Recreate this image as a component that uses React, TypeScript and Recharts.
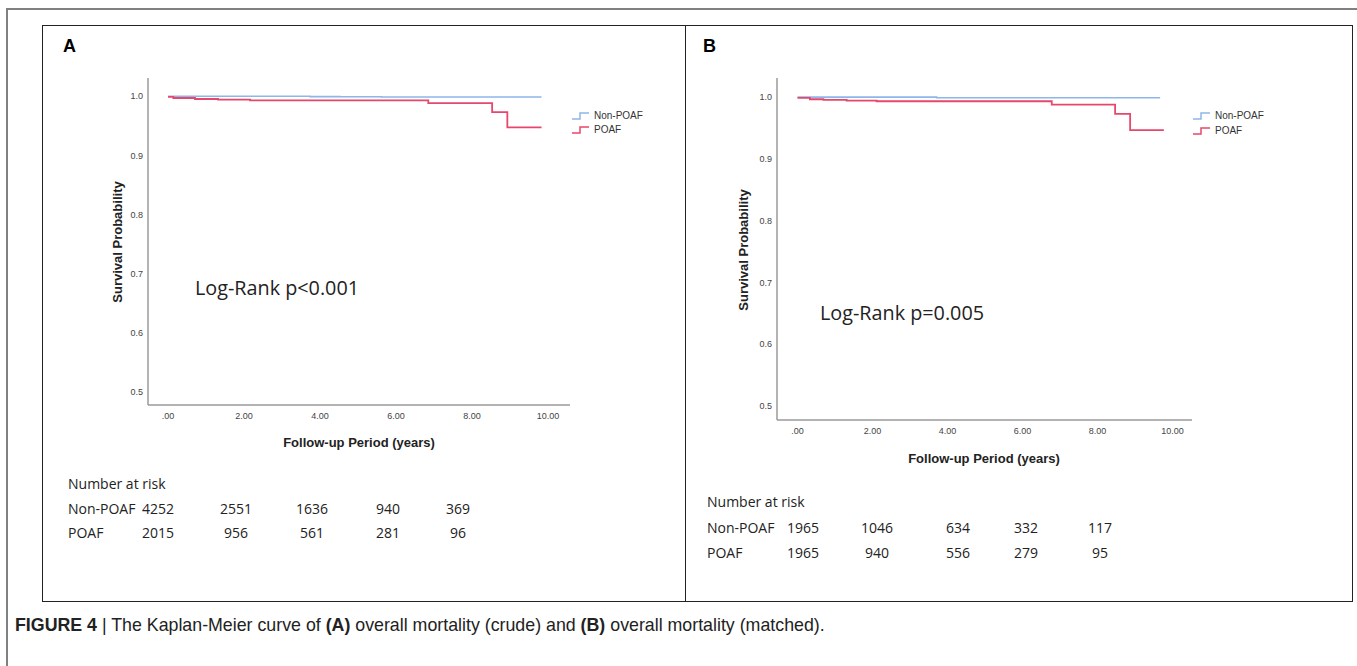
import React from 'react';
import { LineChart, Line, XAxis, YAxis } from 'recharts';

// ---- data ----
const xTicks = [0, 2, 4, 6, 8, 10];
const yTicks = [0.5, 0.6, 0.7, 0.8, 0.9, 1.0];
const groups = ['Non-POAF', 'POAF'];

// Panel A (crude)
const timesNonPoafA = [0, 3.74, 4.53, 5.62, 9.83];
const survNonPoafA = [1.0, 0.9995, 0.9992, 0.9989, 0.9989];
const timesPoafA = [0, 0.14, 0.71, 1.32, 2.16, 6.85, 8.53, 8.93, 9.83];
const survPoafA = [0.9989, 0.9971, 0.9954, 0.9943, 0.9931, 0.9886, 0.9731, 0.9474, 0.9474];

// Panel B (matched)
const timesNonPoafB = [0, 3.71, 9.67];
const survNonPoafB = [1.0, 0.9989, 0.9989];
const timesPoafB = [0, 0.33, 0.69, 1.31, 2.11, 6.78, 8.47, 8.87, 9.77];
const survPoafB = [0.9989, 0.9966, 0.9955, 0.9944, 0.9933, 0.988, 0.973, 0.9466, 0.9466];

// Number at risk
const riskNonPoafA = [4252, 2551, 1636, 940, 369];
const riskPoafA = [2015, 956, 561, 281, 96];
const riskNonPoafB = [1965, 1046, 634, 332, 117];
const riskPoafB = [1965, 940, 556, 279, 95];

const logRankA = 'Log-Rank p<0.001';
const logRankB = 'Log-Rank p=0.005';

// ---- styles ----
const BLUE = '#8fb6ea';
const RED = '#e6476d';
const AXIS = '#9a9a9a';
const SANS = 'Liberation Sans, Arial, sans-serif';
const UI = '"Open Sans", "Noto Sans", sans-serif';

const toPoints = (t: number[], s: number[]) => t.map((v, i) => ({ t: v, s: s[i] }));

const fmtX = (v: number) => (v === 0 ? '.00' : v.toFixed(2));
const fmtY = (v: number) => v.toFixed(1);

type PanelProps = {
  left: number; top: number; width: number; height: number;
  margin: { top: number; right: number; bottom: number; left: number };
  xDomain: [number, number];
  nonPoaf: { t: number; s: number }[];
  poaf: { t: number; s: number }[];
};

function KMChart(p: PanelProps) {
  return (
    <div style={{ position: 'absolute', left: p.left, top: p.top }}>
      <LineChart width={p.width} height={p.height} margin={p.margin}>
        <XAxis
          type="number"
          dataKey="t"
          domain={p.xDomain}
          allowDataOverflow
          ticks={xTicks}
          tickFormatter={fmtX}
          height={30}
          axisLine={{ stroke: AXIS, strokeWidth: 1.5 }}
          tickLine={false}
          tickSize={4}
          tickMargin={4}
          tick={{ fill: '#444', fontSize: 9, fontFamily: SANS }}
        />
        <YAxis
          type="number"
          dataKey="s"
          domain={[0.477, 1.031]}
          allowDataOverflow
          ticks={yTicks}
          tickFormatter={fmtY}
          width={40}
          axisLine={{ stroke: AXIS, strokeWidth: 1.5 }}
          tickLine={false}
          tickSize={3}
          tickMargin={2}
          tick={{ fill: '#444', fontSize: 9, fontFamily: SANS }}
        />
        <Line data={p.nonPoaf} dataKey="s" type="stepAfter" stroke={BLUE} strokeWidth={1.6} dot={false} isAnimationActive={false} />
        <Line data={p.poaf} dataKey="s" type="stepAfter" stroke={RED} strokeWidth={1.8} dot={false} isAnimationActive={false} />
      </LineChart>
    </div>
  );
}

function T(props: { x: number; y: number; children: React.ReactNode; style?: React.CSSProperties; center?: boolean }) {
  return (
    <div
      style={{
        position: 'absolute', left: props.x, top: props.y, whiteSpace: 'nowrap', lineHeight: 1,
        transform: props.center ? 'translate(-50%,-50%)' : 'translateY(-50%)',
        ...props.style,
      }}
    >
      {props.children}
    </div>
  );
}

function StepIcon(props: { x: number; y: number; color: string }) {
  return (
    <svg style={{ position: 'absolute', left: props.x, top: props.y - 6 }} width={18} height={12}>
      <polyline points="0,9 8,9 8,3 17,3" fill="none" stroke={props.color} strokeWidth={1.5} />
    </svg>
  );
}

function Legend(props: { x: number; y1: number; y2: number }) {
  const st: React.CSSProperties = { fontFamily: SANS, fontSize: 10, color: '#333' };
  return (
    <>
      <StepIcon x={props.x} y={props.y1} color={BLUE} />
      <T x={props.x + 22} y={props.y1} style={st}>{groups[0]}</T>
      <StepIcon x={props.x} y={props.y2} color={RED} />
      <T x={props.x + 22} y={props.y2} style={st}>{groups[1]}</T>
    </>
  );
}

function RiskTable(props: { x: number; y0: number; y1: number; y2: number; cols: number[]; r1: number[]; r2: number[] }) {
  const st: React.CSSProperties = { fontFamily: UI, fontSize: 14, color: '#222' };
  return (
    <>
      <T x={props.x} y={props.y0} style={st}>Number at risk</T>
      <T x={props.x} y={props.y1} style={st}>{groups[0]}</T>
      <T x={props.x} y={props.y2} style={st}>{groups[1]}</T>
      {props.r1.map((v, i) => (
        <T key={'a' + i} x={props.cols[i]} y={props.y1} center style={st}>{v}</T>
      ))}
      {props.r2.map((v, i) => (
        <T key={'b' + i} x={props.cols[i]} y={props.y2} center style={st}>{v}</T>
      ))}
    </>
  );
}

export default function App() {
  const axisTitle: React.CSSProperties = { fontFamily: SANS, fontSize: 13, fontWeight: 'bold', color: '#222' };
  const rotated: React.CSSProperties = { ...axisTitle, transform: 'translate(-50%,-50%) rotate(-90deg)' };
  const logRank: React.CSSProperties = { fontFamily: UI, fontSize: 19.8, color: '#222' };
  const letter: React.CSSProperties = { fontFamily: SANS, fontSize: 18, fontWeight: 'bold', color: '#000' };
  return (
    <div style={{ position: 'absolute', left: 0, top: 0, width: 1357, height: 666, overflow: 'hidden', background: '#fff' }}>
      {/* outer frame */}
      <div style={{ position: 'absolute', left: 6, top: 8, width: 1400, height: 700, border: '2px solid #808080' }} />
      {/* panel box */}
      <div style={{ position: 'absolute', left: 42, top: 25, width: 1309, height: 575, border: '1px solid #222' }} />
      <div style={{ position: 'absolute', left: 685, top: 25, width: 1, height: 577, background: '#222' }} />

      <T x={63} y={46} style={letter}>A</T>
      <T x={703} y={46} style={letter}>B</T>

      <KMChart
        left={42} top={25} width={540} height={440}
        margin={{ top: 53, right: 12, left: 66, bottom: 30 }}
        xDomain={[-0.526, 10.579]}
        nonPoaf={toPoints(timesNonPoafA, survNonPoafA)}
        poaf={toPoints(timesPoafA, survPoafA)}
      />
      <KMChart
        left={686} top={25} width={520} height={440}
        margin={{ top: 53, right: 14, left: 51, bottom: 15 }}
        xDomain={[-0.547, 10.52]}
        nonPoaf={toPoints(timesNonPoafB, survNonPoafB)}
        poaf={toPoints(timesPoafB, survPoafB)}
      />

      <T x={117} y={242} style={rotated}>Survival Probability</T>
      <T x={743} y={250} style={rotated}>Survival Probability</T>
      <T x={359} y={442} center style={axisTitle}>Follow-up Period (years)</T>
      <T x={984} y={458} center style={axisTitle}>Follow-up Period (years)</T>

      <Legend x={572} y1={116} y2={130} />
      <Legend x={1193} y1={116} y2={131} />

      <T x={195} y={288} style={logRank}>{logRankA}</T>
      <T x={820} y={313} style={logRank}>{logRankB}</T>

      <RiskTable x={68} y0={484} y1={509} y2={533} cols={[158, 236, 312, 388, 458]} r1={riskNonPoafA} r2={riskPoafA} />
      <RiskTable x={707} y0={502} y1={528} y2={553} cols={[803, 877, 958, 1026, 1100]} r1={riskNonPoafB} r2={riskPoafB} />

      <T x={15} y={626} style={{ fontFamily: SANS, fontSize: 17.8, color: '#222' }}>
        <b>FIGURE 4</b> | The Kaplan-Meier curve of <b>(A)</b> overall mortality (crude) and <b>(B)</b> overall mortality (matched).
      </T>
    </div>
  );
}
